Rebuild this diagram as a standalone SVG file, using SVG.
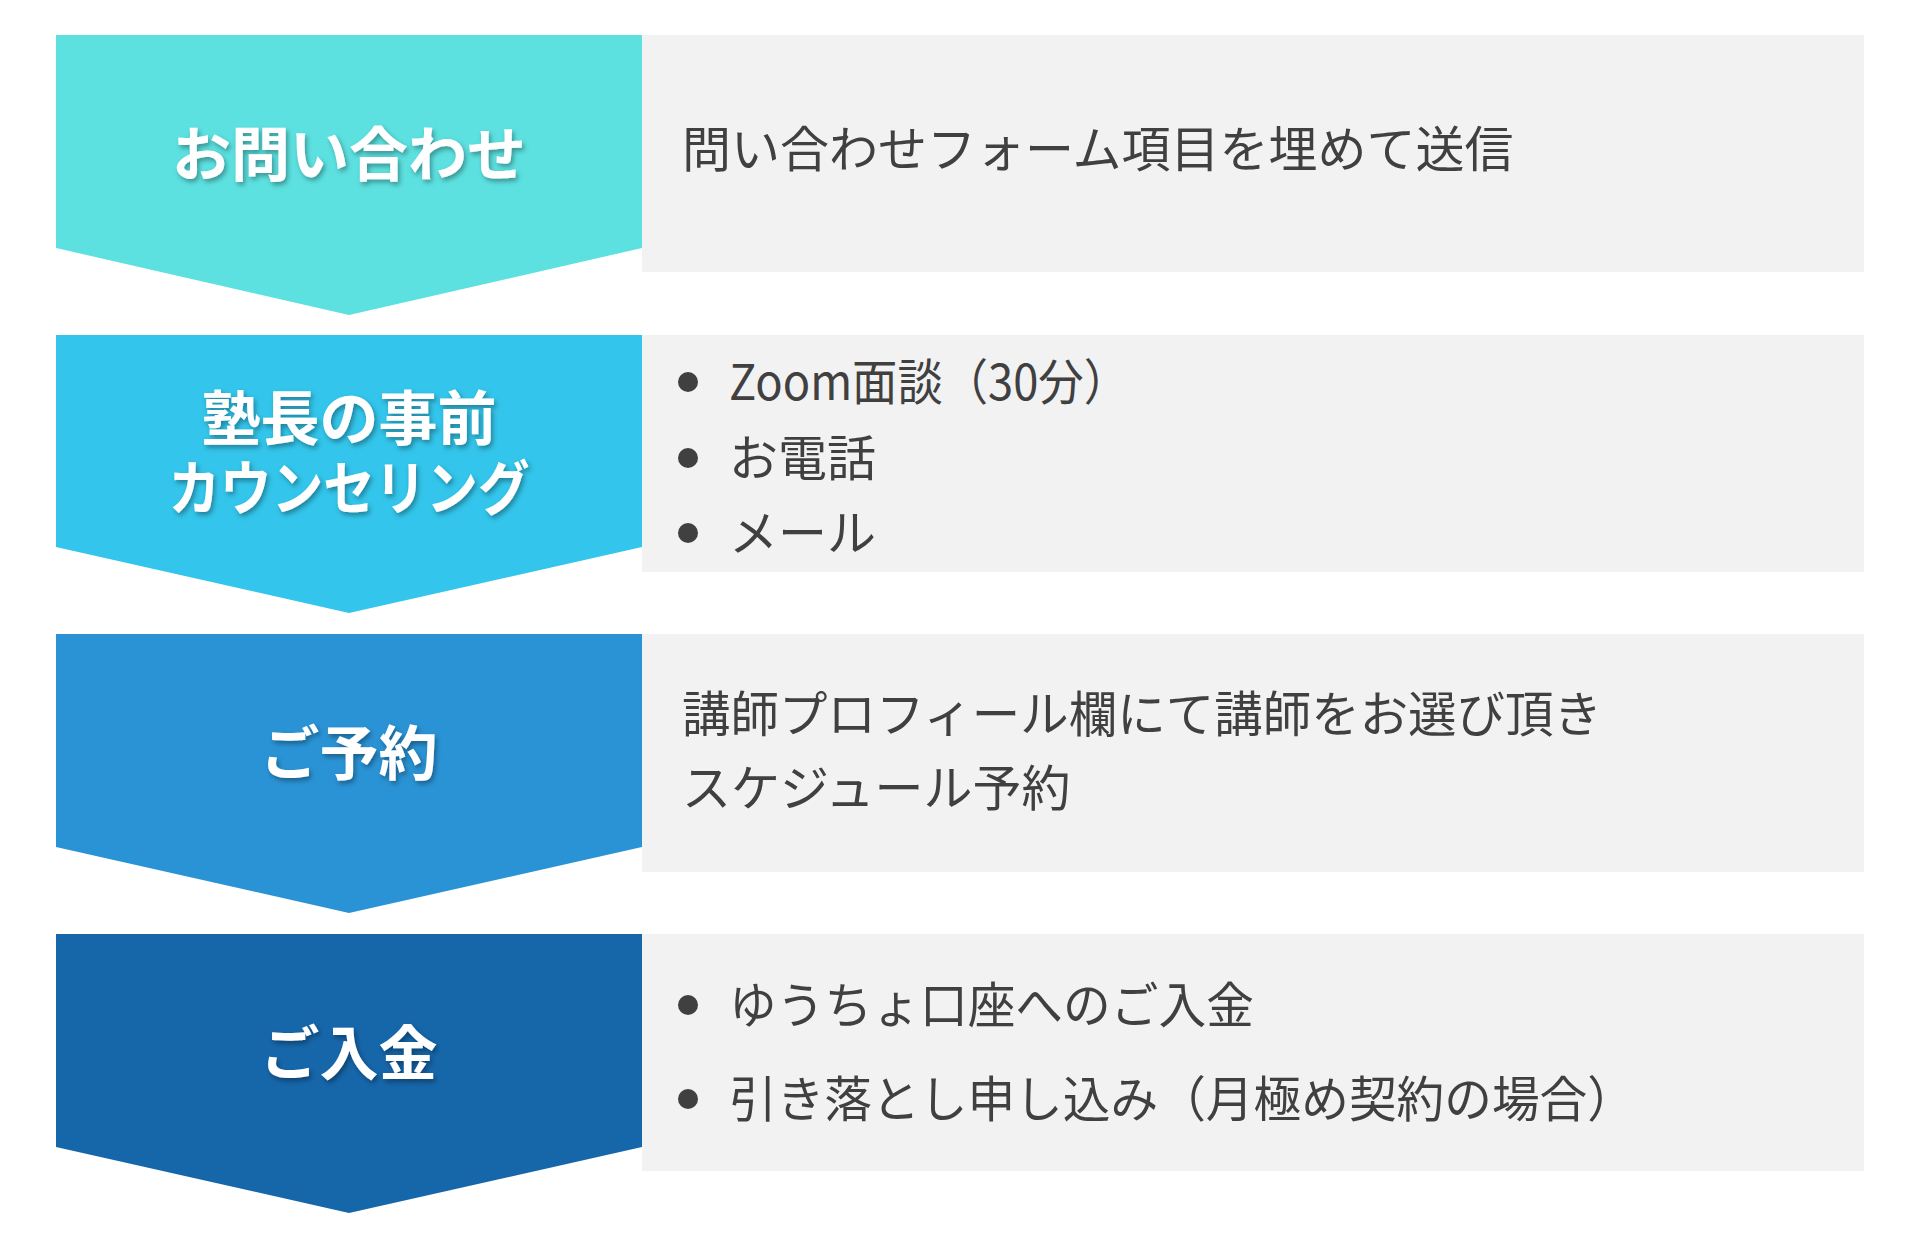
<svg xmlns="http://www.w3.org/2000/svg" width="1920" height="1241" viewBox="0 0 1920 1241">
<defs>
<filter id="shadow" x="-20%" y="-30%" width="140%" height="160%">
<feDropShadow dx="2" dy="3" stdDeviation="2.5" flood-color="#000000" flood-opacity="0.35"/>
</filter>
<style>
.box{fill:#F2F2F2}
.lbl{font-family:"Noto Sans CJK JP","Noto Sans",sans-serif;font-weight:700;font-size:59px;fill:#FFFFFF;text-anchor:middle;filter:url(#shadow)}
.txt{font-family:"Noto Sans CJK JP","Noto Sans",sans-serif;font-weight:400;font-size:49px;fill:#404040}
.dot{fill:#404040}
</style>
</defs>
<rect width="1920" height="1241" fill="#FFFFFF"/>
<g id="connectors"></g>
<g id="step1">
<rect class="box" x="642" y="35" width="1222" height="237"/>
<polygon points="56,35 642,35 642,248 349,315 56,248" fill="#5CE1E0"/>
<text class="lbl" x="349" y="176">お問い合わせ</text>
<text class="txt" x="682" y="167">問い合わせフォーム項目を埋めて送信</text>
</g>
<g id="step2">
<rect class="box" x="642" y="335" width="1222" height="237"/>
<polygon points="56,335 642,335 642,547 349,613 56,547" fill="#33C5EB"/>
<text class="lbl" x="349" y="440">塾長の事前<tspan x="349" dy="70" textLength="361" lengthAdjust="spacingAndGlyphs">カウンセリング</tspan></text>
<circle class="dot" cx="688" cy="382" r="10"/>
<text class="txt" x="729" y="400" textLength="400" lengthAdjust="spacingAndGlyphs">Zoom面談（30分）</text>
<circle class="dot" cx="688" cy="458" r="10"/>
<text class="txt" x="729" y="476">お電話</text>
<circle class="dot" cx="688" cy="533" r="10"/>
<text class="txt" x="729" y="551">メール</text>
</g>
<g id="step3">
<rect class="box" x="642" y="634" width="1222" height="238"/>
<polygon points="56,634 642,634 642,847 349,913 56,847" fill="#2A93D5"/>
<text class="lbl" x="349" y="775">ご予約</text>
<text class="txt" x="682" y="732" textLength="920" lengthAdjust="spacingAndGlyphs">講師プロフィール欄にて講師をお選び頂き</text>
<text class="txt" x="682" y="806">スケジュール予約</text>
</g>
<g id="step4">
<rect class="box" x="642" y="934" width="1222" height="237"/>
<polygon points="56,934 642,934 642,1147 349,1213 56,1147" fill="#1666AA"/>
<text class="lbl" x="349" y="1075">ご入金</text>
<circle class="dot" cx="688" cy="1005" r="10"/>
<text class="txt" x="729" y="1023" textLength="525" lengthAdjust="spacingAndGlyphs">ゆうちょ口座へのご入金</text>
<circle class="dot" cx="688" cy="1099" r="10"/>
<text class="txt" x="729" y="1117" textLength="906" lengthAdjust="spacingAndGlyphs">引き落とし申し込み（月極め契約の場合）</text>
</g>
</svg>
